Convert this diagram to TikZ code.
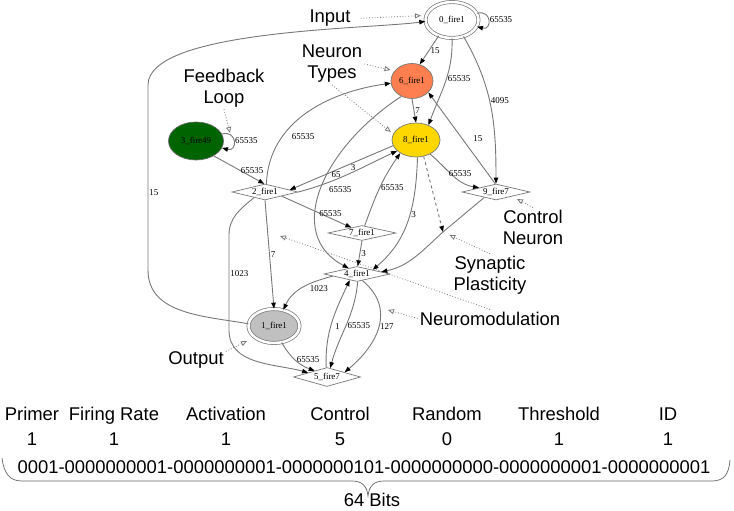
\documentclass[tikz,border=0pt]{standalone}
\usepackage{fontspec}
\setmainfont{Liberation Serif}
\setsansfont{Liberation Sans}
\usetikzlibrary{arrows.meta,shapes.geometric}
\definecolor{wire}{HTML}{787878}
\definecolor{coral}{HTML}{FF7F50}
\definecolor{gold}{HTML}{FFD700}
\definecolor{leaf}{HTML}{006400}
\definecolor{silver}{HTML}{C0C0C0}
\tikzset{every node/.style={font=\fontsize{9}{10}\selectfont},
cell/.style={ellipse,draw=wire,line width=.7bp,inner sep=0pt},
twin/.style={cell,double=white,double distance=2.5bp},
gate/.style={diamond,draw=wire,line width=.7bp,aspect=4,inner sep=0pt},
syn/.style={wire,line width=.9bp,-{Triangle[length=6bp,width=4.5bp,color=black]}},
note/.style={wire,dotted,line width=.8bp,-{Triangle[open,length=6bp,width=5bp]}},
wt/.style={inner sep=1bp,text=black},
tag/.style={font=\sffamily\fontsize{18.5}{21}\selectfont,align=center,inner sep=2bp},
field/.style={font=\sffamily\fontsize{18.5}{21}\selectfont,inner sep=0pt}}

\begin{document}
\begin{tikzpicture}[x=1bp,y=1bp]
\useasboundingbox (0,0) rectangle (734,-511);
% neurons
\node[twin,minimum width=53bp,minimum height=36bp] (n0) at (452,-20) {0\_fire1};
\node[cell,fill=coral,minimum width=42bp,minimum height=35bp] (n6) at (412,-81) {6\_fire1};
\node[cell,fill=gold,minimum width=48bp,minimum height=34bp] (n8) at (416,-140) {8\_fire1};
\node[cell,fill=leaf,draw=black!60,minimum width=55bp,minimum height=38bp] (n3) at (196,-141) {3\_fire49};
\node[gate,minimum width=66bp,minimum height=16bp] (n2) at (265,-192) {2\_fire1};
\node[gate,minimum width=68bp,minimum height=16bp] (n9) at (496,-192) {9\_fire7};
\node[gate,minimum width=68bp,minimum height=15bp] (n7) at (362,-233) {7\_fire1};
\node[gate,minimum width=66bp,minimum height=15bp] (n4) at (357,-274) {4\_fire1};
\node[twin,fill=silver,minimum width=51bp,minimum height=34bp] (n1) at (274,-326) {1\_fire1};
\node[gate,minimum width=67bp,minimum height=19bp] (n5) at (327,-377) {5\_fire7};
\coordinate (plas) at (443,-232);
% synapses
\draw[syn] (n0.15) to[out=15,in=-15,looseness=3] node[wt,right]{65535} (n0.-15);
\draw[syn] (n0.-130) -- node[wt,right,pos=.5]{15} (n6.65);
\draw[syn] (n0.-90) to[out=-88,in=70] node[wt,right,pos=.45]{65535} (n8.50);
\draw[syn] (n0.-55) to[out=-60,in=90] node[wt,right,pos=.45]{4095} (n9.north);
\draw[syn] (n1.175) to[out=170,in=-90] (148,-270) -- node[wt,right,pos=.42]{15} (148,-85) to[out=90,in=188,looseness=.5] (n0.183);
\draw[syn] (n3.15) to[out=15,in=-15,looseness=3] node[wt,right]{65535} (n3.-15);
\draw[syn] (n3.-40) -- node[wt,above,pos=.7,xshift=3bp]{65535} (n2.95);
\draw[syn] (n8.194) -- node[wt,below,pos=.55]{65} (n2.5);
\draw[syn] (n2.east) to[out=15,in=205] node[wt,above,pos=.55]{3} (n8.210);
\draw[syn] (n2.80) to[out=88,in=188] node[wt,right,pos=.3,xshift=8bp]{65535} (n6.186);
\draw[syn] (n2.-14) -- node[wt,above,pos=.7]{65535} (n7.153);
\draw[syn] (n2.south) -- node[wt,right,pos=.5]{7} (n1.north);
\draw[syn] (n2.-153) to[out=-140,in=90] (229,-235) -- node[wt,right,pos=.41]{1023} (229,-330) to[out=-90,in=165] (n5.167);
\draw[syn] (n6.south) -- node[wt,right]{7} (n8.north);
\draw[syn] (n6.-125) .. controls (320,-150) and (285,-235) .. node[wt,right,pos=.5,xshift=7bp]{65535} (n4.145);
\draw[syn] (n9.95) -- node[wt,right,pos=.5,xshift=10bp]{15} (n6.-35);
\draw[syn] (n8.-45) to[out=-40,in=170] node[wt,above,pos=.6,xshift=3bp]{65535} (n9.166);
\draw[syn] (n8.-85) to[out=-92,in=40] node[wt,right,pos=.45]{3} (n4.15);
\draw[syn,dashed] (n8.-65) -- (plas);
\draw[syn] (n7.70) to[out=70,in=235] node[wt,right,pos=.5]{65535} (n8.220);
\draw[syn] (n7.south) -- node[wt,right]{3} (n4.85);
\draw[syn] (n9.-155) -- (plas) to[out=-138,in=12] (n4.5);
\draw[syn] (n4.185) to[out=195,in=65] node[wt,below right,pos=.4]{1023} (n1.60);
\draw[syn] (n5.95) to[out=92,in=-115] node[wt,right,pos=.45,xshift=3bp]{1} (n4.-140);
\draw[syn] (n4.-85) to[out=-95,in=75] node[wt,right,pos=.5]{65535} (n5.70);
\draw[syn] (n4.-50) to[out=-40,in=40,looseness=1.2] node[wt,right,pos=.5]{127} (n5.15);
\draw[syn] (n1.-65) to[out=-60,in=160] node[wt,right,pos=.5]{65535} (n5.153);
% notes
\node[tag,anchor=base] (input) at (330,-23) {Input};
\node[tag] (types) at (332,-64) {Neuron\\Types};
\node[tag] (fb) at (224,-88) {Feedback\\Loop};
\node[tag] (ctl) at (533,-227) {Control\\Neuron};
\node[tag] (plast) at (490,-275) {Synaptic\\Plasticity};
\node[tag,anchor=base] (nmod) at (490,-325) {Neuromodulation};
\node[tag,anchor=base] (outp) at (196,-364) {Output};
\coordinate (fbpt) at (230,-133);
\coordinate (ctlpt) at (517,-199);
\coordinate (nmodpt) at (280,-236);
\coordinate (nmodpt2) at (388,-310);
\coordinate (outpt) at (247,-341);
\draw[note,shorten <=8bp,shorten >=5bp] (input.east) -- (n0.170);
\draw[note,shorten >=4bp] (types.east) -- (n6.150);
\draw[note,shorten >=3bp] (types.south) -- (n8.165);
\draw[note] (fb.south) -- (fbpt);
\draw[note] (ctl.north) -- (ctlpt);
\draw[note,shorten >=7bp] (plast.north) -- (plas);
\draw[note] (nmod.north) -- (nmodpt);
\draw[note] (nmod.west) -- (nmodpt2);
\draw[note] (outp.15) -- (outpt);
% bit layout
\foreach \name/\val/\xx [count=\i] in {Primer/1/32,Firing Rate/1/114,Activation/1/226,Control/5/340,Random/0/447,Threshold/1/559,ID/1/668}{
  \node[field,anchor=base] (name\i) at (\xx,-420) {\name};
  \node[field,anchor=base] (val\i) at (\xx,-445) {\val};
}
\node[field,anchor=base] (bits) at (364,-473) {0001-0000000001-0000000001-0000000101-0000000000-0000000001-0000000001};
\node[field,anchor=base] (size) at (372,-506) {64 Bits};
\draw[black!60,line width=.7bp] (2,-458) .. controls (4,-474) and (10,-481) .. (22,-481) -- (352,-481) .. controls (362,-481) and (367,-486) .. (368,-496) .. controls (369,-486) and (374,-481) .. (384,-481) -- (712,-481) .. controls (724,-481) and (729,-474) .. (730,-460);
\end{tikzpicture}
\end{document}
